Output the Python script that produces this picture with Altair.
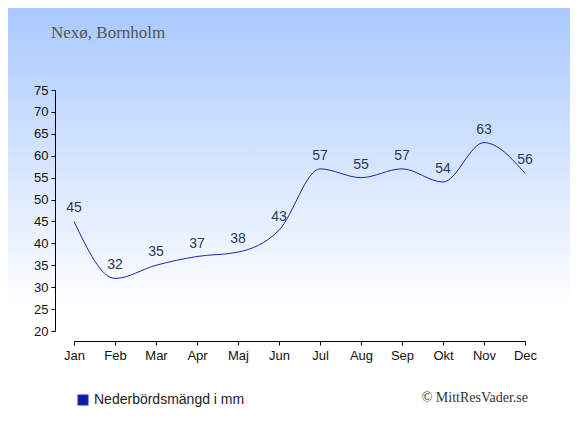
import altair as alt
import pandas as pd

months = ["Jan", "Feb", "Mar", "Apr", "Maj", "Jun", "Jul", "Aug", "Sep", "Okt", "Nov", "Dec"]
precip = [45, 32, 35, 37, 38, 43, 57, 55, 57, 54, 63, 56]
series_name = "Nederbördsmängd i mm"
title_text = "Nexø, Bornholm"
credit_text = "© MittResVader.se"
y_ticks = [20, 25, 30, 35, 40, 45, 50, 55, 60, 65, 70, 75]

df = pd.DataFrame({"month": months, "value": precip, "series": [series_name] * len(months)})

W, H = 451, 241
PL, PT, PR, PB = 66, 82, 45, 93

x_axis = alt.Axis(labelAngle=0, offset=10, domainColor="#000", tickColor="#000",
                  tickSize=4, labelFont="Liberation Sans", labelFontSize=13,
                  labelColor="#111", labelPadding=4, zindex=2, labelOverlap=False)
y_axis = alt.Axis(values=y_ticks, offset=19, grid=False, domainColor="#000",
                  tickColor="#000", tickSize=4, labelFont="Liberation Sans",
                  labelFontSize=13, labelColor="#111", labelPadding=3, zindex=2,
                  labelOverlap=False)

x_enc = alt.X("month:N", sort=months, title=None,
              scale=alt.Scale(type="point", padding=0), axis=x_axis)
y_enc = alt.Y("value:Q", title=None,
              scale=alt.Scale(domain=[20, 75], nice=False, zero=False), axis=y_axis)

bg = alt.Chart(df).mark_rect(
    clip=False,
    fill=alt.Gradient(gradient="linear", x1=0, x2=0, y1=0, y2=1,
                      stops=[alt.GradientStop(offset=0, color="#a9c9ff"),
                             alt.GradientStop(offset=0.72, color="#ffffff"),
                             alt.GradientStop(offset=1, color="#ffffff")]),
).encode(x=alt.value(-PL), x2=alt.value(W + PR), y=alt.value(-PT), y2=alt.value(H + PB))

line = alt.Chart(df).mark_line(interpolate="monotone", strokeWidth=1).encode(
    x=x_enc, y=y_enc,
    color=alt.Color("series:N", scale=alt.Scale(range=["#1428b4"]),
                    legend=alt.Legend(orient="none", legendX=2, legendY=303, title=None,
                                      symbolType="square", symbolFillColor="#0a1ea8",
                                      symbolStrokeColor="#0a1ea8", symbolSize=90,
                                      labelFont="Liberation Sans", labelFontSize=14,
                                      labelColor="#222", labelLimit=300)),
)

labels = alt.Chart(df).mark_text(dy=-13, font="Liberation Sans", fontSize=14, color="#2a3a5c").encode(
    x=x_enc, y=y_enc, text="value:Q")

title = alt.Chart(pd.DataFrame({"t": [title_text]})).mark_text(
    align="left", baseline="alphabetic", font="Liberation Serif", fontSize=17, color="#555"
).encode(x=alt.value(-23), y=alt.value(-52), text="t:N")

credit = alt.Chart(pd.DataFrame({"t": [credit_text]})).mark_text(
    align="right", baseline="alphabetic", font="Liberation Serif", fontSize=14, color="#333"
).encode(x=alt.value(454), y=alt.value(312), text="t:N")

chart = alt.layer(bg, line, labels, title, credit).properties(
    width=W, height=H,
    autosize=alt.AutoSizeParams(type="none"),
    padding={"left": PL, "top": PT, "right": PR, "bottom": PB},
).configure_view(stroke=None)

chart.save("out.html", embed_options={"renderer": "svg", "actions": False})
